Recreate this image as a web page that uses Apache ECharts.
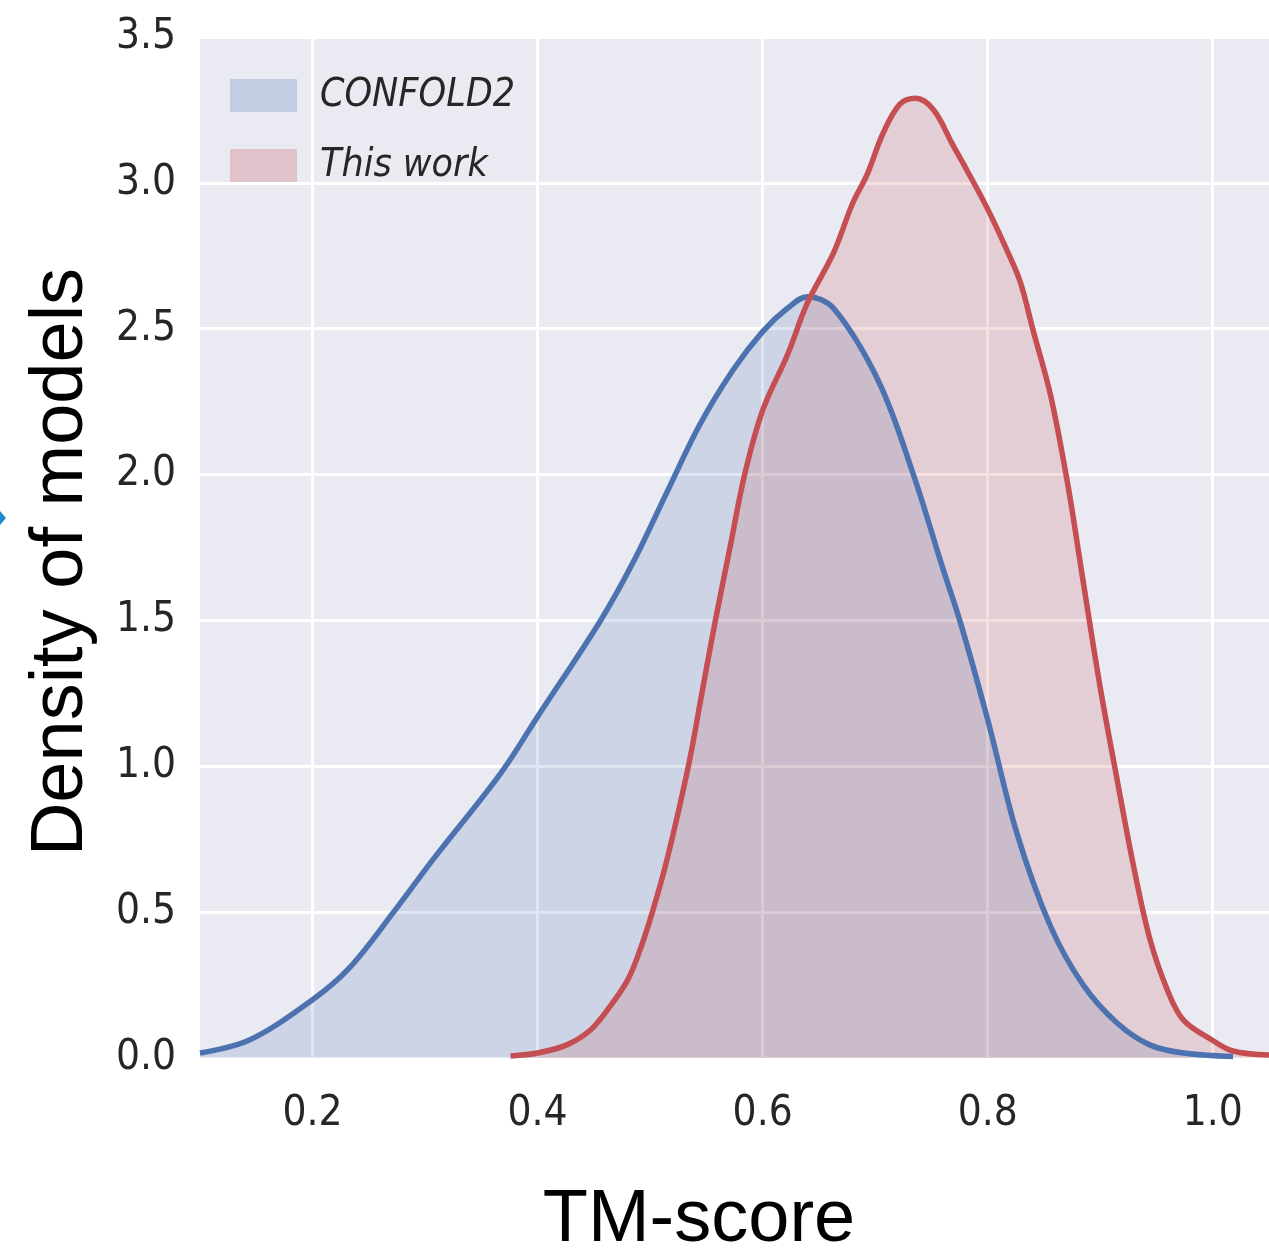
<!DOCTYPE html>
<html>
<head>
<meta charset="utf-8">
<script src="https://cdn.jsdelivr.net/npm/echarts@6/dist/echarts.min.js"></script>
<style>
  html, body { margin: 0; padding: 0; background: #fff; }
  #kdeChart { width: 1269px; height: 1255px; }
</style>
</head>
<body>
<div id="kdeChart"></div>
<script>
  // TM-score density curves
  const confoldX = [0.100, 0.144, 0.200, 0.233, 0.272, 0.307, 0.367, 0.400, 0.456, 0.485, 0.515, 0.544, 0.574, 0.600, 0.622, 0.640, 0.663, 0.703, 0.734, 0.760, 0.776, 0.800, 0.826, 0.856, 0.885, 0.915, 0.944, 0.974, 1.018];
  const confoldDensity = [0.017, 0.062, 0.20, 0.31, 0.50, 0.68, 0.975, 1.17, 1.50, 1.70, 1.94, 2.17, 2.36, 2.49, 2.57, 2.61, 2.57, 2.32, 2.00, 1.68, 1.49, 1.16, 0.77, 0.45, 0.25, 0.12, 0.045, 0.017, 0.005];

  const thisWorkX = [0.376, 0.400, 0.426, 0.447, 0.464, 0.480, 0.491, 0.502, 0.515, 0.534, 0.546, 0.558, 0.571, 0.584, 0.600, 0.622, 0.640, 0.663, 0.680, 0.693, 0.707, 0.722, 0.736, 0.752, 0.769, 0.782, 0.800, 0.817, 0.829, 0.840, 0.856, 0.871, 0.885, 0.900, 0.915, 0.929, 0.944, 0.960, 0.974, 1.000, 1.018, 1.050];
  const thisWorkDensity = [0.007, 0.017, 0.045, 0.096, 0.175, 0.267, 0.37, 0.50, 0.68, 1.00, 1.25, 1.50, 1.75, 2.00, 2.22, 2.41, 2.59, 2.76, 2.93, 3.03, 3.17, 3.27, 3.29, 3.25, 3.13, 3.04, 2.91, 2.77, 2.66, 2.50, 2.27, 1.97, 1.63, 1.27, 0.955, 0.67, 0.41, 0.23, 0.13, 0.06, 0.024, 0.01];

  const seriesNames = ['CONFOLD2', 'This work'];
  const xTicks = [0.2, 0.4, 0.6, 0.8, 1.0];

  const tickFont = "'Liberation Sans Narrow', 'DejaVu Sans Condensed', sans-serif";

  function zip(xs, ys) {
    return xs.map((x, i) => [x, ys[i]]);
  }

  let myChart = echarts.init(document.getElementById('kdeChart'));
  myChart.setOption({
    backgroundColor: '#ffffff',
    animation: false,
    grid: {
      left: 200,
      right: 0,
      top: 37,
      bottom: 197,
      show: true,
      backgroundColor: '#EAEAF2',
      borderWidth: 0
    },
    legend: {
      left: 230,
      top: 76,
      padding: 0,
      orient: 'vertical',
      itemWidth: 67,
      itemHeight: 33,
      itemGap: 31,
      icon: 'rect',
      textStyle: {
        fontFamily: tickFont,
        fontStyle: 'italic',
        fontSize: 39,
        color: '#262626',
        padding: [5, 0, 0, 18]
      },
      data: [
        { name: seriesNames[0], itemStyle: { color: '#C3CCE2' }, lineStyle: { opacity: 0 } },
        { name: seriesNames[1], itemStyle: { color: '#E0C3CA' }, lineStyle: { opacity: 0 } }
      ]
    },
    xAxis: {
      type: 'value',
      min: 0.1,
      max: 1.05,
      axisLine: { show: false },
      axisTick: { show: false, customValues: xTicks },
      axisLabel: {
        customValues: xTicks,
        formatter: v => v.toFixed(1),
        fontFamily: tickFont,
        fontSize: 42,
        color: '#262626',
        margin: 35
      },
      splitLine: { show: true, lineStyle: { color: '#ffffff', width: 3 } }
    },
    yAxis: {
      type: 'value',
      min: 0,
      max: 3.5,
      interval: 0.5,
      axisLine: { show: false },
      axisTick: { show: false },
      axisLabel: {
        formatter: v => v.toFixed(1),
        fontFamily: tickFont,
        fontSize: 42,
        color: '#262626',
        margin: 24
      },
      splitLine: { show: true, lineStyle: { color: '#ffffff', width: 3 } }
    },
    graphic: [
      {
        type: 'text',
        x: 699,
        y: 1221,
        style: {
          text: 'TM-score',
          fontFamily: "'Liberation Sans', Arial, sans-serif",
          fontSize: 74,
          fill: '#000000',
          align: 'center',
          verticalAlign: 'middle'
        }
      },
      {
        type: 'text',
        x: 62,
        y: 562,
        rotation: Math.PI / 2,
        style: {
          text: 'Density of models',
          fontFamily: "'Liberation Sans', Arial, sans-serif",
          fontSize: 74,
          fill: '#000000',
          align: 'center',
          verticalAlign: 'middle'
        }
      },
      {
        type: 'polygon',
        shape: { points: [[0, 511], [6, 518], [0, 525]] },
        style: { fill: '#1E8BD3' }
      }
    ],
    series: [
      {
        name: seriesNames[0],
        type: 'line',
        data: zip(confoldX, confoldDensity),
        symbol: 'none',
        smooth: 0.35,
        lineStyle: { color: '#4C72B0', width: 5.5 },
        itemStyle: { color: '#4C72B0' },
        areaStyle: { color: 'rgba(76,114,176,0.25)', origin: 'start' }
      },
      {
        name: seriesNames[1],
        type: 'line',
        data: zip(thisWorkX, thisWorkDensity),
        symbol: 'none',
        smooth: 0.35,
        lineStyle: { color: '#C44E52', width: 5.5 },
        itemStyle: { color: '#C44E52' },
        areaStyle: { color: 'rgba(196,78,82,0.25)', origin: 'start' }
      }
    ]
  });

  window.addEventListener('resize', () => {
    myChart.resize();
  });
</script>
</body>
</html>
